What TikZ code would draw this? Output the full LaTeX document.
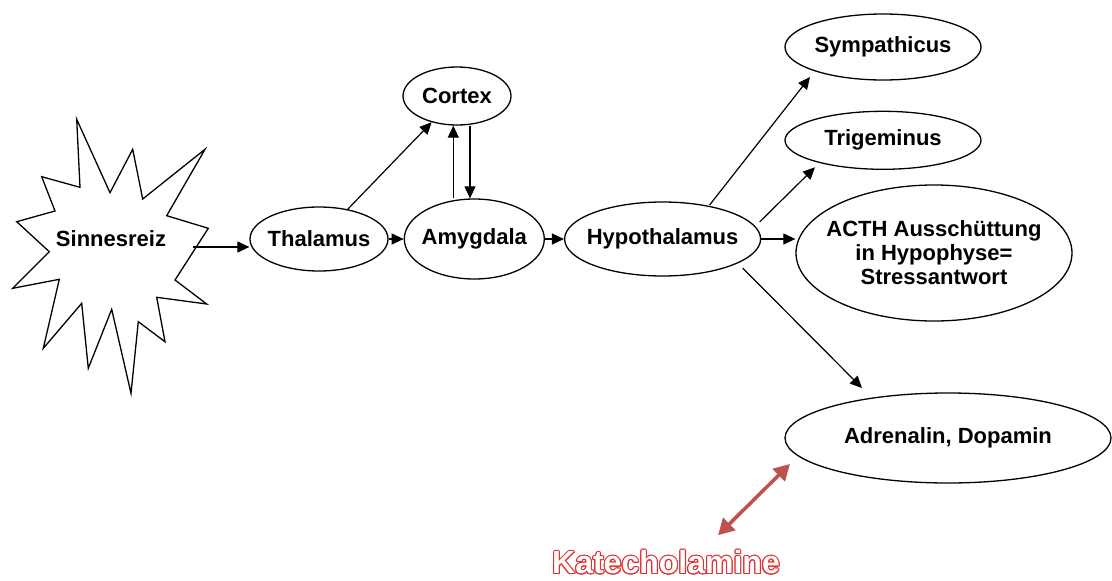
\documentclass[tikz,border=0pt]{standalone}
\usepackage{fontspec}
\setmainfont{Liberation Sans}
\usepackage[copies]{contour}
\usetikzlibrary{shapes.geometric,arrows.meta,positioning}

\definecolor{katred}{RGB}{192,80,77}
\definecolor{kattext}{RGB}{222,52,52}

\tikzset{
  region/.style={ellipse, draw, line width=1.3pt, inner xsep=-60pt, inner ysep=-20pt,
    align=center, font=\fontsize{22}{24}\selectfont\bfseries},
  arr/.style={-{Triangle[length=12pt,width=11pt]}, line width=1.2pt},
  redarr/.style={{Triangle[length=16pt,width=17pt]}-{Triangle[length=16pt,width=17pt]},
    line width=3.5pt, draw=katred},
}

\begin{document}
\begin{tikzpicture}[x=1pt,y=-1pt]
  \useasboundingbox (0,0) rectangle (1112,581);
  % starburst for the stimulus
  \draw[line width=1.3pt, line join=miter]
    (76.7,119.3) -- (110,192.7) -- (132.7,149.3) -- (142.7,199) -- (205,149.3)
    -- (166.7,215.7) -- (208.3,228.3) -- (175,280) -- (206.7,304) -- (156.7,297.3)
    -- (165,341.7) -- (138.3,321.7) -- (131,393.3) -- (111.7,309.3) -- (88.3,368.3)
    -- (81.7,303.3) -- (43.3,348.3) -- (59.3,279.3) -- (12.7,288.3) -- (49.3,251.7)
    -- (16.7,221.7) -- (55,211) -- (41.7,176.7) -- (80,187.3) -- cycle;
  \node[font=\fontsize{22}{24}\selectfont\bfseries] (sinne) at (111,239) {Sinnesreiz};
  \coordinate (burstE) at (193,247);
  % Define nodes
  \node[region, minimum width=138pt, minimum height=64pt] (thal) at (319,239) {Thalamus};
  \node[region, minimum width=140pt, minimum height=80pt, right=15pt of thal] (amyg) {Amygdala};
  \node[region, minimum width=108pt, minimum height=58pt] (cortex) at (457,96) {Cortex};
  \node[region, minimum width=196pt, minimum height=74pt, right=19pt of amyg] (hypo) {Hypothalamus};
  \node[region, minimum width=196pt, minimum height=66pt] (symp) at (883,47) {Sympathicus};
  \node[region, minimum width=196pt, minimum height=58pt, below=30pt of symp] (trig) {Trigeminus};
  \node[region, minimum width=276pt, minimum height=136pt] (acth) at (934,253)
    {ACTH Aussch\"uttung\\in Hypophyse=\\Stressantwort};
  \node[region, minimum width=326pt, minimum height=90pt] (adr) at (948,438) {Adrenalin, Dopamin};
  \node[font=\fontsize{32}{34}\selectfont\bfseries] (kat) at (666,563)
    {\contourlength{1.1pt}\contour{kattext}{\color{white}Katecholamine}};
  % stimulus to thalamus
  \draw[arr] (burstE) -- (burstE -| thal.west);
  % thalamus, cortex and amygdala
  \draw[arr] (thal) -- (cortex);
  \draw[arr] (thal.east) -- (amyg.west);
  \draw[arr] ([xshift=-21pt]amyg.north) -- ([xshift=-21pt]amyg.north |- cortex.south);
  \draw[arr] ([xshift=13pt]cortex.south) -- ([xshift=13pt]cortex.south |- amyg.north);
  \draw[arr] (amyg.east) -- (hypo.west);
  % outputs of the hypothalamus
  \draw[arr] ([xshift=47pt,yshift=34pt]hypo.center) -- ([xshift=-73pt,yshift=-30pt]symp.center);
  \draw[arr] ([xshift=97pt,yshift=17pt]hypo.center) -- ([xshift=-68pt,yshift=-27pt]trig.center);
  \draw[arr] (hypo.east) -- (hypo.east -| acth.west);
  \draw[arr] ([xshift=80pt,yshift=-29pt]hypo.center) -- ([xshift=-86pt,yshift=50pt]adr.center);
  % label for the hormones
  \draw[redarr] ([xshift=52pt,yshift=12pt]kat.north) -- ([xshift=-158pt,yshift=-26pt]adr.center);
\end{tikzpicture}
\end{document}
